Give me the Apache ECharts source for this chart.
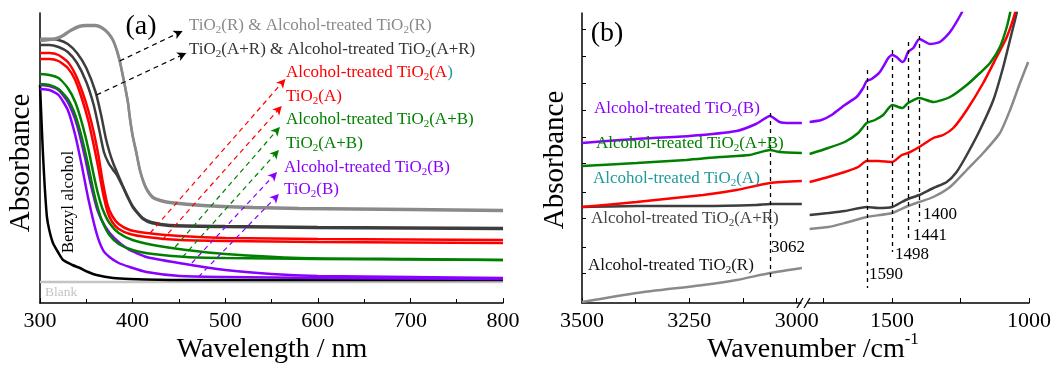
<!DOCTYPE html>
<html><head><meta charset="utf-8">
<script src="https://cdn.jsdelivr.net/npm/echarts@6/dist/echarts.min.js"></script>
<style>html,body{margin:0;padding:0;background:#fff}#c{width:1054px;height:368px}</style>
</head><body><div id="c"></div>
<script>
const FONT = '"Liberation Serif","Times New Roman",serif';

// ---------- Panel (a): UV-vis, [wavelength nm, absorbance a.u.] ----------
const uvTicks = [300, 400, 500, 600, 700, 800];
const uvBlank = [[300,0.21],[800,0.21]];
const uvBenzyl = [[300,2.18],[301.5,1.85],[303,1.53],[305,1.18],[307.5,0.86],[310,0.73],[314,0.60],[320,0.50],[325,0.43],[335,0.38],[343,0.35],[352,0.31],[361,0.28],[379,0.25],[397,0.24],[451,0.23],[600,0.23],[800,0.23]];
const uvTiO2B = [[300,2.14],[310,2.13],[320,2.08],[330,1.93],[338,1.68],[345,1.38],[352,1.05],[361,0.70],[368,0.53],[375,0.46],[385,0.40],[397,0.36],[415,0.31],[451,0.27],[500,0.26],[600,0.25],[800,0.24]];
const uvAlcB = [[300,2.18],[310,2.17],[320,2.13],[330,2.01],[340,1.78],[348,1.48],[355,1.18],[362,0.93],[370,0.77],[380,0.65],[395,0.54],[415,0.46],[450,0.40],[500,0.33],[550,0.29],[600,0.27],[700,0.26],[800,0.25]];
const uvTiO2AB = [[300,2.19],[310,2.18],[320,2.14],[330,2.04],[338,1.88],[345,1.66],[352,1.38],[358,1.11],[363,0.93],[368,0.80],[375,0.68],[385,0.59],[400,0.53],[422,0.49],[458,0.46],[500,0.45],[600,0.44],[800,0.43]];
const uvAlcAB = [[300,2.29],[310,2.28],[320,2.25],[330,2.15],[338,2.01],[345,1.81],[352,1.55],[358,1.28],[363,1.08],[368,0.93],[375,0.80],[385,0.70],[400,0.63],[422,0.58],[458,0.53],[500,0.49],[580,0.45],[700,0.44],[800,0.43]];
const uvTiO2A = [[300,2.44],[310,2.44],[320,2.42],[330,2.35],[338,2.23],[345,2.05],[352,1.83],[358,1.58],[363,1.35],[368,1.10],[373,0.91],[378,0.81],[385,0.74],[397,0.69],[415,0.66],[451,0.63],[500,0.62],[600,0.61],[800,0.60]];
const uvAlcA = [[300,2.50],[310,2.50],[320,2.48],[330,2.41],[338,2.29],[345,2.13],[352,1.93],[358,1.71],[363,1.48],[368,1.20],[373,0.98],[378,0.87],[385,0.79],[397,0.73],[415,0.70],[451,0.67],[500,0.65],[600,0.64],[800,0.63]];
const uvTiO2AR = [[300,2.58],[310,2.58],[320,2.56],[330,2.51],[340,2.40],[350,2.21],[358,1.98],[364,1.73],[369,1.51],[374,1.40],[379,1.33],[383,1.28],[389,1.17],[395,1.05],[400,0.96],[405,0.90],[411,0.84],[420,0.80],[440,0.77],[500,0.76],[600,0.75],[800,0.74]];
const uvAlcAR = [[300,2.64],[310,2.64],[320,2.63],[330,2.59],[340,2.50],[350,2.35],[360,2.11],[366,1.88],[371,1.65],[375,1.51],[379,1.40],[383,1.31],[389,1.18],[395,1.06],[400,0.97],[405,0.91],[411,0.85],[420,0.81],[440,0.78],[500,0.77],[600,0.76],[800,0.75]];
const uvTiO2R = [[300,2.62],[310,2.63],[318,2.64],[325,2.67],[333,2.72],[342,2.76],[350,2.77],[360,2.77],[368,2.74],[374,2.69],[379,2.62],[383,2.52],[386,2.42],[389,2.29],[392,2.15],[395,2.00],[397,1.85],[400,1.67],[404,1.50],[408,1.32],[412,1.20],[416,1.12],[422,1.05],[430,1.02],[440,1.00],[476,0.97],[530,0.95],[580,0.94],[700,0.93],[800,0.92]];
const uvAlcR = [[300,2.64],[310,2.64],[318,2.65],[325,2.68],[333,2.73],[342,2.77],[350,2.78],[360,2.78],[368,2.75],[374,2.70],[379,2.63],[383,2.53],[386,2.43],[389,2.30],[392,2.16],[395,2.01],[397,1.86],[400,1.68],[404,1.51],[408,1.33],[412,1.21],[416,1.13],[422,1.06],[430,1.03],[440,1.01],[476,0.98],[530,0.96],[580,0.95],[700,0.94],[800,0.93]];
// arrows: [from, to] in [nm, a.u.]
const uvArrows = [
  [[386,2.42],[454,2.72],'#000'],
  [[361,2.08],[458,2.50],'#000'],
  [[419,0.70],[565,2.24],'#ff0000'],
  [[432,0.63],[561,1.97],'#ff0000'],
  [[446,0.56],[559,1.76],'#008000'],
  [[454,0.46],[558,1.53],'#008000'],
  [[464,0.40],[556,1.31],'#8800ff'],
  [[471,0.26],[558,1.09],'#8800ff']
];

// ---------- Panel (b): FTIR, [wavenumber cm-1, absorbance a.u.] ----------
const irHighTicks = [3000, 3250, 3500];
const irLowTicks = [1000, 1500];
const irB_hi = [[3500,1.60],[3375,1.64],[3250,1.67],[3140,1.72],[3095,1.79],[3062,1.87],[3040,1.81],[3015,1.80],[2988,1.80]];
const irB_lo = [[1800,1.81],[1757,1.83],[1720,1.88],[1672,1.98],[1629,2.06],[1605,2.15],[1592,2.22],[1574,2.24],[1544,2.31],[1513,2.45],[1499,2.48],[1483,2.46],[1462,2.41],[1453,2.43],[1441,2.51],[1422,2.55],[1400,2.64],[1361,2.59],[1325,2.61],[1288,2.71],[1246,2.90],[1225,3.03]];
const irAB_hi = [[3500,1.37],[3373,1.40],[3257,1.43],[3180,1.46],[3110,1.48],[3062,1.53],[3040,1.51],[2988,1.50]];
const irAB_lo = [[1800,1.49],[1732,1.55],[1672,1.61],[1623,1.70],[1592,1.80],[1562,1.83],[1532,1.88],[1499,1.98],[1462,1.95],[1441,2.00],[1400,2.05],[1349,2.01],[1288,2.06],[1227,2.18],[1179,2.30],[1142,2.40],[1106,2.56],[1081,2.76],[1069,2.90],[1060,3.03]];
const irA_hi = [[3500,0.96],[3373,1.01],[3218,1.08],[3140,1.13],[3062,1.20],[2988,1.22]];
const irA_lo = [[1800,1.21],[1732,1.26],[1672,1.31],[1623,1.36],[1592,1.42],[1550,1.42],[1499,1.41],[1464,1.48],[1441,1.50],[1400,1.56],[1349,1.65],[1313,1.68],[1276,1.75],[1227,1.93],[1167,2.20],[1118,2.46],[1081,2.66],[1051,2.90],[1042,3.03]];
const irAR_hi = [[3500,0.96],[3373,0.97],[3218,0.97],[3094,0.98],[3062,0.99],[2988,0.99]];
const irAR_lo = [[1800,0.88],[1732,0.90],[1672,0.92],[1592,0.96],[1550,0.95],[1499,0.96],[1464,1.01],[1441,1.04],[1400,1.08],[1349,1.15],[1300,1.21],[1264,1.31],[1227,1.48],[1179,1.73],[1130,2.03],[1094,2.36],[1063,2.70],[1045,2.90],[1038,3.03]];
const irR_hi = [[3500,0.01],[3373,0.10],[3218,0.18],[3140,0.23],[3062,0.30],[2988,0.35]];
const irR_lo = [[1800,0.74],[1732,0.76],[1672,0.80],[1592,0.86],[1499,0.90],[1441,0.97],[1400,1.01],[1349,1.06],[1288,1.16],[1227,1.33],[1167,1.50],[1106,1.70],[1069,1.93],[1033,2.20],[1003,2.41]];
// peak marker lines: [wavenumber, yTop, yBottom]
const irPeakHi = [[3062,1.90,0.23]];
const irPeakLo = [[1590,2.33,0.15],[1498,2.53,0.51],[1441,2.61,0.61],[1400,2.67,0.81]];
const irYTicks = [0.30,0.56,0.85,1.11,1.40,1.66,1.93,2.20,2.47,2.74];

const C = {R:'#8a8a8a', AR:'#3d3d3d', A:'#ff0000', AB:'#008000', B:'#8800ff', teal:'#1f9a9a'};

function line(data, color, xi, yi, extra) {
  return Object.assign({type:'line', data, xAxisIndex:xi, yAxisIndex:yi, showSymbol:false, symbol:'none',
    smooth:0.2, silent:true, animation:false, clip:true,
    lineStyle:{color, width:2.5}, itemStyle:{color}}, extra||{});
}
function arrowML(arr) {
  return {silent:true, animation:false, symbol:['none','arrow'], symbolSize:[7,9], label:{show:false},
    data: arr.map(a => [{coord:a[0], lineStyle:{color:a[2], type:[5,4], width:1.2}, itemStyle:{color:a[2]}},
                        {coord:a[1], lineStyle:{color:a[2], type:[5,4], width:1.2}, itemStyle:{color:a[2]}}])};
}
function peakML(arr) {
  return {silent:true, animation:false, symbol:'none', label:{show:false},
    lineStyle:{color:'#000', type:[4,4], width:1.3},
    data: arr.map(p => [{coord:[p[0],p[1]]},{coord:[p[0],p[2]]}])};
}
function txt(x, y, s, color, size, opts) {
  opts = opts || {};
  const rich = {
    s:{fontSize:Math.round(size*0.64), fontFamily:FONT, fill:color, padding:[Math.round(size*0.55),0,0,0]},
    t:{fontSize:size, fontFamily:FONT, fill:C.teal},
    u:{fontSize:Math.round(size*0.6), fontFamily:FONT, fill:color, padding:[0,0,Math.round(size*0.75),0]}
  };
  return {type:'text', x, y, rotation:opts.rot||0, silent:true, z:10,
    style:{text:s.replace(/TiO2/g,'TiO{s|2}'), fill:color, fontSize:size, fontFamily:FONT,
      align:opts.align||'left', verticalAlign:'middle', rich}};
}

const axBase = {axisLine:{show:true, lineStyle:{color:'#000', width:1.5}}, splitLine:{show:false}};
const lblStyle = {color:'#000', fontSize:22, fontFamily:FONT, margin:7, formatter: v => String(v)};

const option = {
  backgroundColor:'#fff', animation:false,
  grid:[
    {left:40, top:13, width:463, height:290},
    {left:582, top:13, width:219, height:290},
    {left:808, top:13, width:221, height:290}
  ],
  xAxis:[
    Object.assign({gridIndex:0, type:'value', min:uvTicks[0], max:uvTicks[uvTicks.length-1], interval:100,
      axisTick:{inside:true, length:5, lineStyle:{color:'#000'}},
      minorTick:{show:true, splitNumber:2, length:4, lineStyle:{color:'#000'}},
      axisLabel:lblStyle}, axBase),
    Object.assign({gridIndex:1, type:'value', min:2990, max:3500, inverse:true,
      axisTick:{inside:true, length:5, lineStyle:{color:'#000'}, customValues:[3000,3125,3250,3375,3500]},
      axisLabel:Object.assign({customValues:irHighTicks}, lblStyle)}, axBase),
    Object.assign({gridIndex:2, type:'value', min:1000, max:1806, inverse:true,
      axisTick:{inside:true, length:5, lineStyle:{color:'#000'}, customValues:[1000,1250,1500,1750]},
      axisLabel:Object.assign({customValues:irLowTicks}, lblStyle)}, axBase)
  ],
  yAxis:[
    Object.assign({gridIndex:0, type:'value', min:0, max:2.9, axisTick:{show:false}, axisLabel:{show:false}}, axBase),
    Object.assign({gridIndex:1, type:'value', min:0, max:2.9,
      axisTick:{inside:true, length:4, lineStyle:{color:'#000'}, customValues:irYTicks}, axisLabel:{show:false}}, axBase),
    {gridIndex:2, type:'value', min:0, max:2.9, show:false}
  ],
  series:[
    line(uvBlank, '#c4c4c4', 0, 0),
    line(uvBenzyl, '#000', 0, 0, {markLine:arrowML(uvArrows)}),
    line(uvTiO2B, C.B, 0, 0),
    line(uvAlcB, C.B, 0, 0),
    line(uvTiO2AB, C.AB, 0, 0),
    line(uvAlcAB, C.AB, 0, 0),
    line(uvTiO2A, C.A, 0, 0),
    line(uvAlcA, C.A, 0, 0),
    line(uvTiO2AR, C.AR, 0, 0),
    line(uvAlcAR, C.AR, 0, 0),
    line(uvTiO2R, C.R, 0, 0),
    line(uvAlcR, C.R, 0, 0),
    line(irR_hi, C.R, 1, 1, {markLine:peakML(irPeakHi)}),
    line(irAR_hi, C.AR, 1, 1),
    line(irA_hi, C.A, 1, 1),
    line(irAB_hi, C.AB, 1, 1),
    line(irB_hi, C.B, 1, 1),
    line(irR_lo, C.R, 2, 2, {markLine:peakML(irPeakLo)}),
    line(irAR_lo, C.AR, 2, 2),
    line(irA_lo, C.A, 2, 2),
    line(irAB_lo, C.AB, 2, 2),
    line(irB_lo, C.B, 2, 2)
  ],
  graphic:[
    // panel a texts
    txt(141, 27, '(a)', '#000', 28, {align:'center'}),
    txt(21, 163, 'Absorbance', '#000', 29, {align:'center', rot:Math.PI/2}),
    txt(272, 350, 'Wavelength / nm', '#000', 28, {align:'center'}),
    txt(69, 202, 'Benzyl alcohol', '#000', 17, {align:'center', rot:Math.PI/2}),
    txt(45, 292, 'Blank', '#c4c4c4', 13.5),
    txt(189, 26, 'TiO2(R) & Alcohol-treated TiO2(R)', C.R, 17),
    txt(189, 50, 'TiO2(A+R) & Alcohol-treated TiO2(A+R)', '#333', 17),
    txt(286, 73, 'Alcohol-treated TiO2(A{t|)}', C.A, 17),
    txt(286, 97, 'TiO2(A)', C.A, 17),
    txt(286, 120, 'Alcohol-treated TiO2(A+B)', C.AB, 17),
    txt(286, 144, 'TiO2(A+B)', C.AB, 17),
    txt(284, 168, 'Alcohol-treated TiO2(B)', C.B, 17),
    txt(284, 190, 'TiO2(B)', C.B, 17),
    // panel b texts
    txt(607, 34, '(b)', '#000', 28, {align:'center'}),
    txt(555, 160, 'Absorbance', '#000', 29, {align:'center', rot:Math.PI/2}),
    txt(813, 350, 'Wavenumber /cm{u|-1}', '#000', 28, {align:'center'}),
    txt(594, 109, 'Alcohol-treated TiO2(B)', C.B, 17),
    txt(596, 144, 'Alcohol-treated TiO2(A+B)', C.AB, 17),
    txt(593, 179, 'Alcohol-treated TiO2(A)', C.teal, 17),
    txt(591, 219, 'Alcohol-treated TiO2(A+R)', '#444', 17),
    txt(588, 266, 'Alcohol-treated TiO2(R)', '#111', 17),
    txt(771, 248, '3062', '#000', 17),
    txt(869, 275, '1590', '#000', 17),
    txt(895, 255, '1498', '#000', 17),
    txt(913, 236, '1441', '#000', 17),
    txt(923, 215, '1400', '#000', 17),
    // axis break marks
    {type:'line', silent:true, shape:{x1:797,y1:308,x2:803,y2:298}, style:{stroke:'#000', lineWidth:1.3}},
    {type:'line', silent:true, shape:{x1:804,y1:308,x2:810,y2:298}, style:{stroke:'#000', lineWidth:1.3}}
  ]
};
const chart = echarts.init(document.getElementById('c'), null, {renderer:'canvas'});
chart.setOption(option);
</script></body></html>
